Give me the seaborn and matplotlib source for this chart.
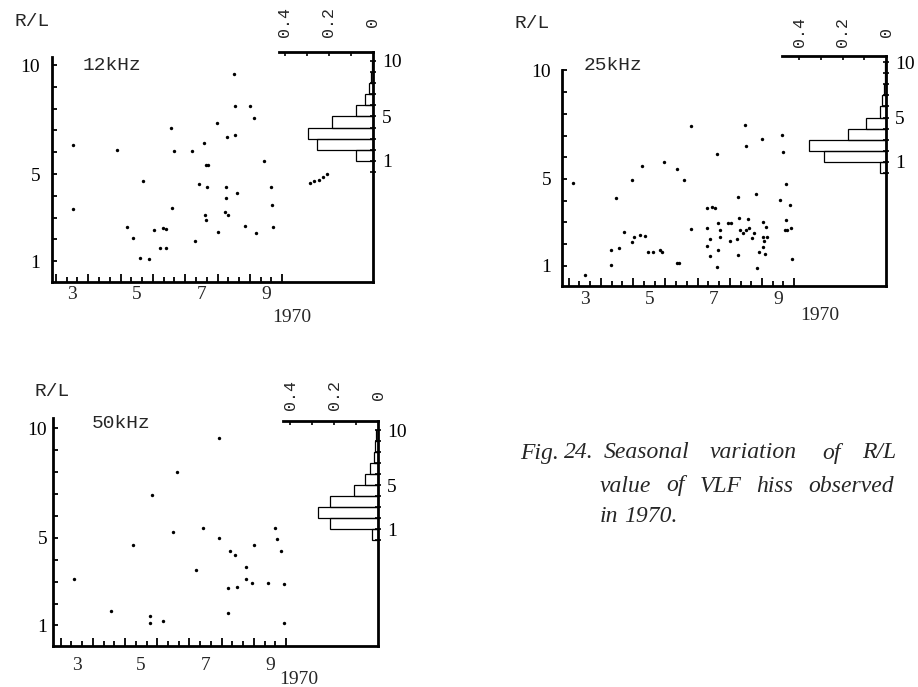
import numpy as np
import pandas as pd
import matplotlib
matplotlib.use("Agg")
import matplotlib.pyplot as plt
import matplotlib.transforms as mtransforms
import seaborn as sns

W, H = 918, 687

# ---- 12 kHz: day-of-year expressed as month, and R/L value ----
month_12 = [3.04, 3.04, 4.38, 5.19, 4.71, 4.88, 5.10, 5.37, 5.54, 5.82, 5.91, 5.73,
            5.91, 6.05, 6.15, 6.10, 6.70, 6.81, 6.93, 7.07, 7.14, 7.21, 7.19, 7.11,
            7.15, 7.49, 7.51, 7.76, 7.76, 7.73, 7.83, 7.78, 8.02, 8.03, 8.03, 8.09,
            8.35, 8.49, 8.64, 8.69, 8.94, 9.15, 9.20, 9.23,
            10.37, 10.50, 10.63, 10.76, 10.89]
rl_12 = [6.33, 3.38, 6.10, 4.68, 2.58, 2.06, 1.13, 1.09, 2.43, 2.52, 2.48, 1.61,
         1.61, 7.11, 6.07, 3.43, 6.07, 1.91, 4.54, 6.41, 5.40, 5.40, 4.39, 3.12,
         2.89, 7.35, 2.35, 4.39, 3.88, 3.27, 3.12, 6.71, 9.59, 8.10, 6.79, 4.11,
         2.61, 8.10, 7.58, 2.28, 5.60, 4.39, 3.58, 2.58,
         4.57, 4.66, 4.72, 4.86, 5.00]

# ---- 25 kHz ----
month_25 = [2.64, 3.00, 3.80, 3.81, 3.96, 4.05, 4.21, 4.47, 4.46, 4.52, 4.76, 4.71,
            4.86, 4.97, 5.12, 5.33, 5.41, 5.46, 5.85, 5.85, 5.92, 6.07, 6.28, 6.28,
            6.78, 6.94, 7.04, 6.78, 6.78, 6.88, 6.88, 7.09, 7.11, 7.14, 7.14, 7.19,
            7.21, 7.45, 7.55, 7.52, 7.71, 7.76, 7.79, 7.76, 7.81, 7.92, 7.97, 7.99,
            7.99, 8.07, 8.10, 8.18, 8.31, 8.36, 8.51, 8.54, 8.52, 8.57, 8.54, 8.62,
            8.59, 8.67, 9.11, 9.16, 9.24, 9.06, 9.37, 9.24, 9.21, 9.28, 9.40, 9.42,
            8.40, 8.26]
rl_25 = [4.82, 0.57, 1.03, 1.72, 4.13, 1.80, 2.57, 4.97, 2.11, 2.31, 5.59, 2.41,
         2.37, 1.65, 1.65, 1.72, 1.65, 5.80, 5.48, 1.11, 1.11, 4.97, 2.68, 7.43,
         3.64, 3.72, 3.64, 2.72, 1.91, 1.45, 2.22, 0.96, 6.14, 2.95, 1.72, 2.31,
         2.64, 2.95, 2.95, 2.16, 2.22, 4.15, 3.18, 1.49, 2.64, 2.49, 7.47, 6.51,
         2.64, 3.14, 2.72, 2.26, 4.33, 0.88, 6.86, 3.03, 2.34, 2.16, 1.88, 2.80,
         1.54, 2.31, 7.01, 6.24, 4.79, 4.02, 3.79, 3.10, 2.64, 2.64, 2.72, 1.30,
         1.65, 2.49]

# ---- 50 kHz ----
month_50 = [2.92, 4.06, 4.74, 5.28, 5.28, 5.69, 5.35, 6.00, 6.11, 6.70, 6.93, 7.43,
            7.42, 7.69, 7.71, 7.76, 7.92, 7.99, 8.26, 8.25, 8.43, 8.51, 8.93, 9.17,
            9.21, 9.34, 9.44, 9.44]
rl_50 = [3.10, 1.66, 4.67, 1.43, 1.12, 1.20, 6.95, 5.28, 7.99, 3.53, 5.46, 9.54,
         4.98, 2.72, 1.58, 4.40, 4.21, 2.74, 3.68, 3.10, 2.95, 4.67, 2.92, 5.46,
         4.93, 4.40, 2.89, 1.12]

# ---- occurrence histograms (fraction per unit R/L bin, bins 0-1 ... 9-10) ----
hist_edges = list(range(0, 11))
frac_12 = [0.000, 0.076, 0.255, 0.293, 0.186, 0.076, 0.038, 0.020, 0.010, 0.006]
frac_25 = [0.028, 0.286, 0.353, 0.174, 0.092, 0.028, 0.018, 0.010, 0.006, 0.005]
frac_50 = [0.027, 0.217, 0.271, 0.217, 0.111, 0.061, 0.038, 0.020, 0.014, 0.009]

month_labels = [3, 5, 7, 9]
rl_labels = [1, 5, 10]
frac_labels = [0.4, 0.2, 0]

# caption, word by word (justified setting)
caption_lines = [
    ["Fig.", "24.", "Seasonal", "variation", "of", "R/L"],
    ["value", "of", "VLF", "hiss", "observed"],
    ["in", "1970."],
]

SERIF = "Liberation Serif"
MONO = "Liberation Mono"

sns.set_theme(style="white")
plt.rcParams["font.family"] = [SERIF, "DejaVu Sans"]
plt.rcParams["axes.linewidth"] = 2.0
plt.rcParams["xtick.color"] = "black"
plt.rcParams["ytick.color"] = "black"

fig = plt.figure(figsize=(W / 100, H / 100), dpi=100)
fig.patch.set_facecolor("white")


def box(l, t, r, b):
    return [l / W, 1 - b / H, (r - l) / W, (b - t) / H]


def fy(y):
    return 1 - y / H


layout = [
    dict(tag="12kHz", mon=month_12, rl=rl_12, frac=frac_12,
         sc=(52, 57, 373, 282), sc_x=(2.38, 12.31), sc_y=(0.046, 10.37),
         hb=(279, 52, 373, 282), h_x=(0.427, 0.0), h_y=(-9.91, 10.81),
         ypad=8.6, xlab_y=295, rl_pos=(32, 22), tag_pos=(112, 66),
         yr_pos=(292, 318), top_y=22),
    dict(tag="25kHz", mon=month_25, rl=rl_25, frac=frac_25,
         sc=(562, 70, 886, 286), sc_x=(2.29, 12.35), sc_y=(0.069, 10.02),
         hb=(782, 56, 886, 286), h_x=(0.479, 0.0), h_y=(-10.26, 10.57),
         ypad=7.9, xlab_y=299, rl_pos=(532, 23), tag_pos=(613, 65),
         yr_pos=(820, 315), top_y=32),
    dict(tag="50kHz", mon=month_50, rl=rl_50, frac=frac_50,
         sc=(53, 418, 378, 646), sc_x=(2.26, 12.36), sc_y=(0.06, 10.47),
         hb=(283, 420.7, 378, 646), h_x=(0.432, 0.0), h_y=(-9.64, 10.85),
         ypad=4.3, xlab_y=665, rl_pos=(52, 391), tag_pos=(121, 424),
         yr_pos=(299, 680), top_y=395),
]

for p in layout:
    # --- scatter of R/L against month ---
    ax = fig.add_axes(box(*p["sc"]))
    ax.set_facecolor("none")
    df = pd.DataFrame({"month": p["mon"], "rl": p["rl"]})
    sns.scatterplot(data=df, x="month", y="rl", ax=ax, s=6, color="black",
                    linewidth=0, legend=False)
    ax.set_xlim(*p["sc_x"])
    ax.set_ylim(*p["sc_y"])
    ax.set_xlabel("")
    ax.set_ylabel("")
    for s in ("top", "right"):
        ax.spines[s].set_visible(False)
    for s in ("left", "bottom"):
        ax.spines[s].set_color("black")
        ax.spines[s].set_linewidth(2.0)

    ax.set_yticks(range(1, 11))
    ax.set_yticklabels([str(v) if v in rl_labels else "" for v in range(1, 11)])
    ax.tick_params(axis="y", direction="in", length=3.5, width=1.3,
                   pad=p["ypad"], labelsize=14, left=True)

    ax.set_xticks(np.arange(2.5, 9.51, 1.0))
    ax.set_xticks(np.arange(2.5, 9.6, 1.0 / 3.0), minor=True)
    ax.set_xticklabels([])
    ax.tick_params(axis="x", which="major", direction="in", length=6, width=1.3,
                   bottom=True)
    ax.tick_params(axis="x", which="minor", direction="in", length=3.8, width=1.3,
                   bottom=True)

    tx = mtransforms.blended_transform_factory(ax.transData, fig.transFigure)
    for m in month_labels:
        ax.text(m, fy(p["xlab_y"]), str(m), transform=tx, ha="center",
                va="center", fontsize=14, family=SERIF)

    # --- occurrence histogram on the right ---
    hax = fig.add_axes(box(*p["hb"]))
    hax.set_facecolor("none")
    centers = [e + 0.5 for e in hist_edges[:-1]]
    sns.histplot(y=centers, weights=p["frac"], bins=hist_edges, ax=hax,
                 fill=False, color="black", linewidth=0.9, element="bars")
    hax.set_xlim(*p["h_x"])
    hax.set_ylim(*p["h_y"])
    hax.set_xlabel("")
    hax.set_ylabel("")
    for s in ("left", "bottom"):
        hax.spines[s].set_visible(False)
    for s in ("top", "right"):
        hax.spines[s].set_color("black")
        hax.spines[s].set_linewidth(2.0)

    hax.yaxis.tick_right()
    hax.set_yticks(range(0, 11))
    hax.set_yticklabels([str(v) if v in rl_labels else "" for v in range(0, 11)])
    hax.tick_params(axis="y", direction="inout", length=4.5, width=1.2,
                    pad=4.3, labelsize=14, right=True, left=False)

    hax.xaxis.tick_top()
    hax.set_xticks([0.1, 0.2, 0.3, 0.4])
    hax.set_xticklabels([])
    hax.tick_params(axis="x", direction="in", length=3, width=1.2, top=True,
                    bottom=False)

    htx = mtransforms.blended_transform_factory(hax.transData, fig.transFigure)
    for v in frac_labels:
        hax.text(v, fy(p["top_y"]), f"{v:g}" if v else "0", transform=htx,
                 rotation=90, ha="center", va="center", fontsize=12,
                 family=MONO)

    # --- panel annotations ---
    fig.text(p["rl_pos"][0] / W, fy(p["rl_pos"][1]), "R/L", ha="center",
             va="center", fontsize=14, family=MONO)
    fig.text(p["tag_pos"][0] / W, fy(p["tag_pos"][1]), p["tag"], ha="center",
             va="center", fontsize=14, family=MONO)
    fig.text(p["yr_pos"][0] / W, fy(p["yr_pos"][1]), "1970", ha="center",
             va="center", fontsize=14, family=SERIF)

# ---- caption, set word by word across a justified measure ----
cap_style = dict(fontsize=17, style="italic", family=SERIF, va="center",
                 ha="left")
cap_rows = [453, 486, 516]
cap_starts = [
    [520, 564, 604, 710, 822, 862],
    [600, 666, 700, 756, 808],
    [600, 624],
]
for words, row, starts in zip(caption_lines, cap_rows, cap_starts):
    for word, x0 in zip(words, starts):
        fig.text(x0 / W, fy(row), word, **cap_style)

fig.savefig("out.png", dpi=100, facecolor="white")
